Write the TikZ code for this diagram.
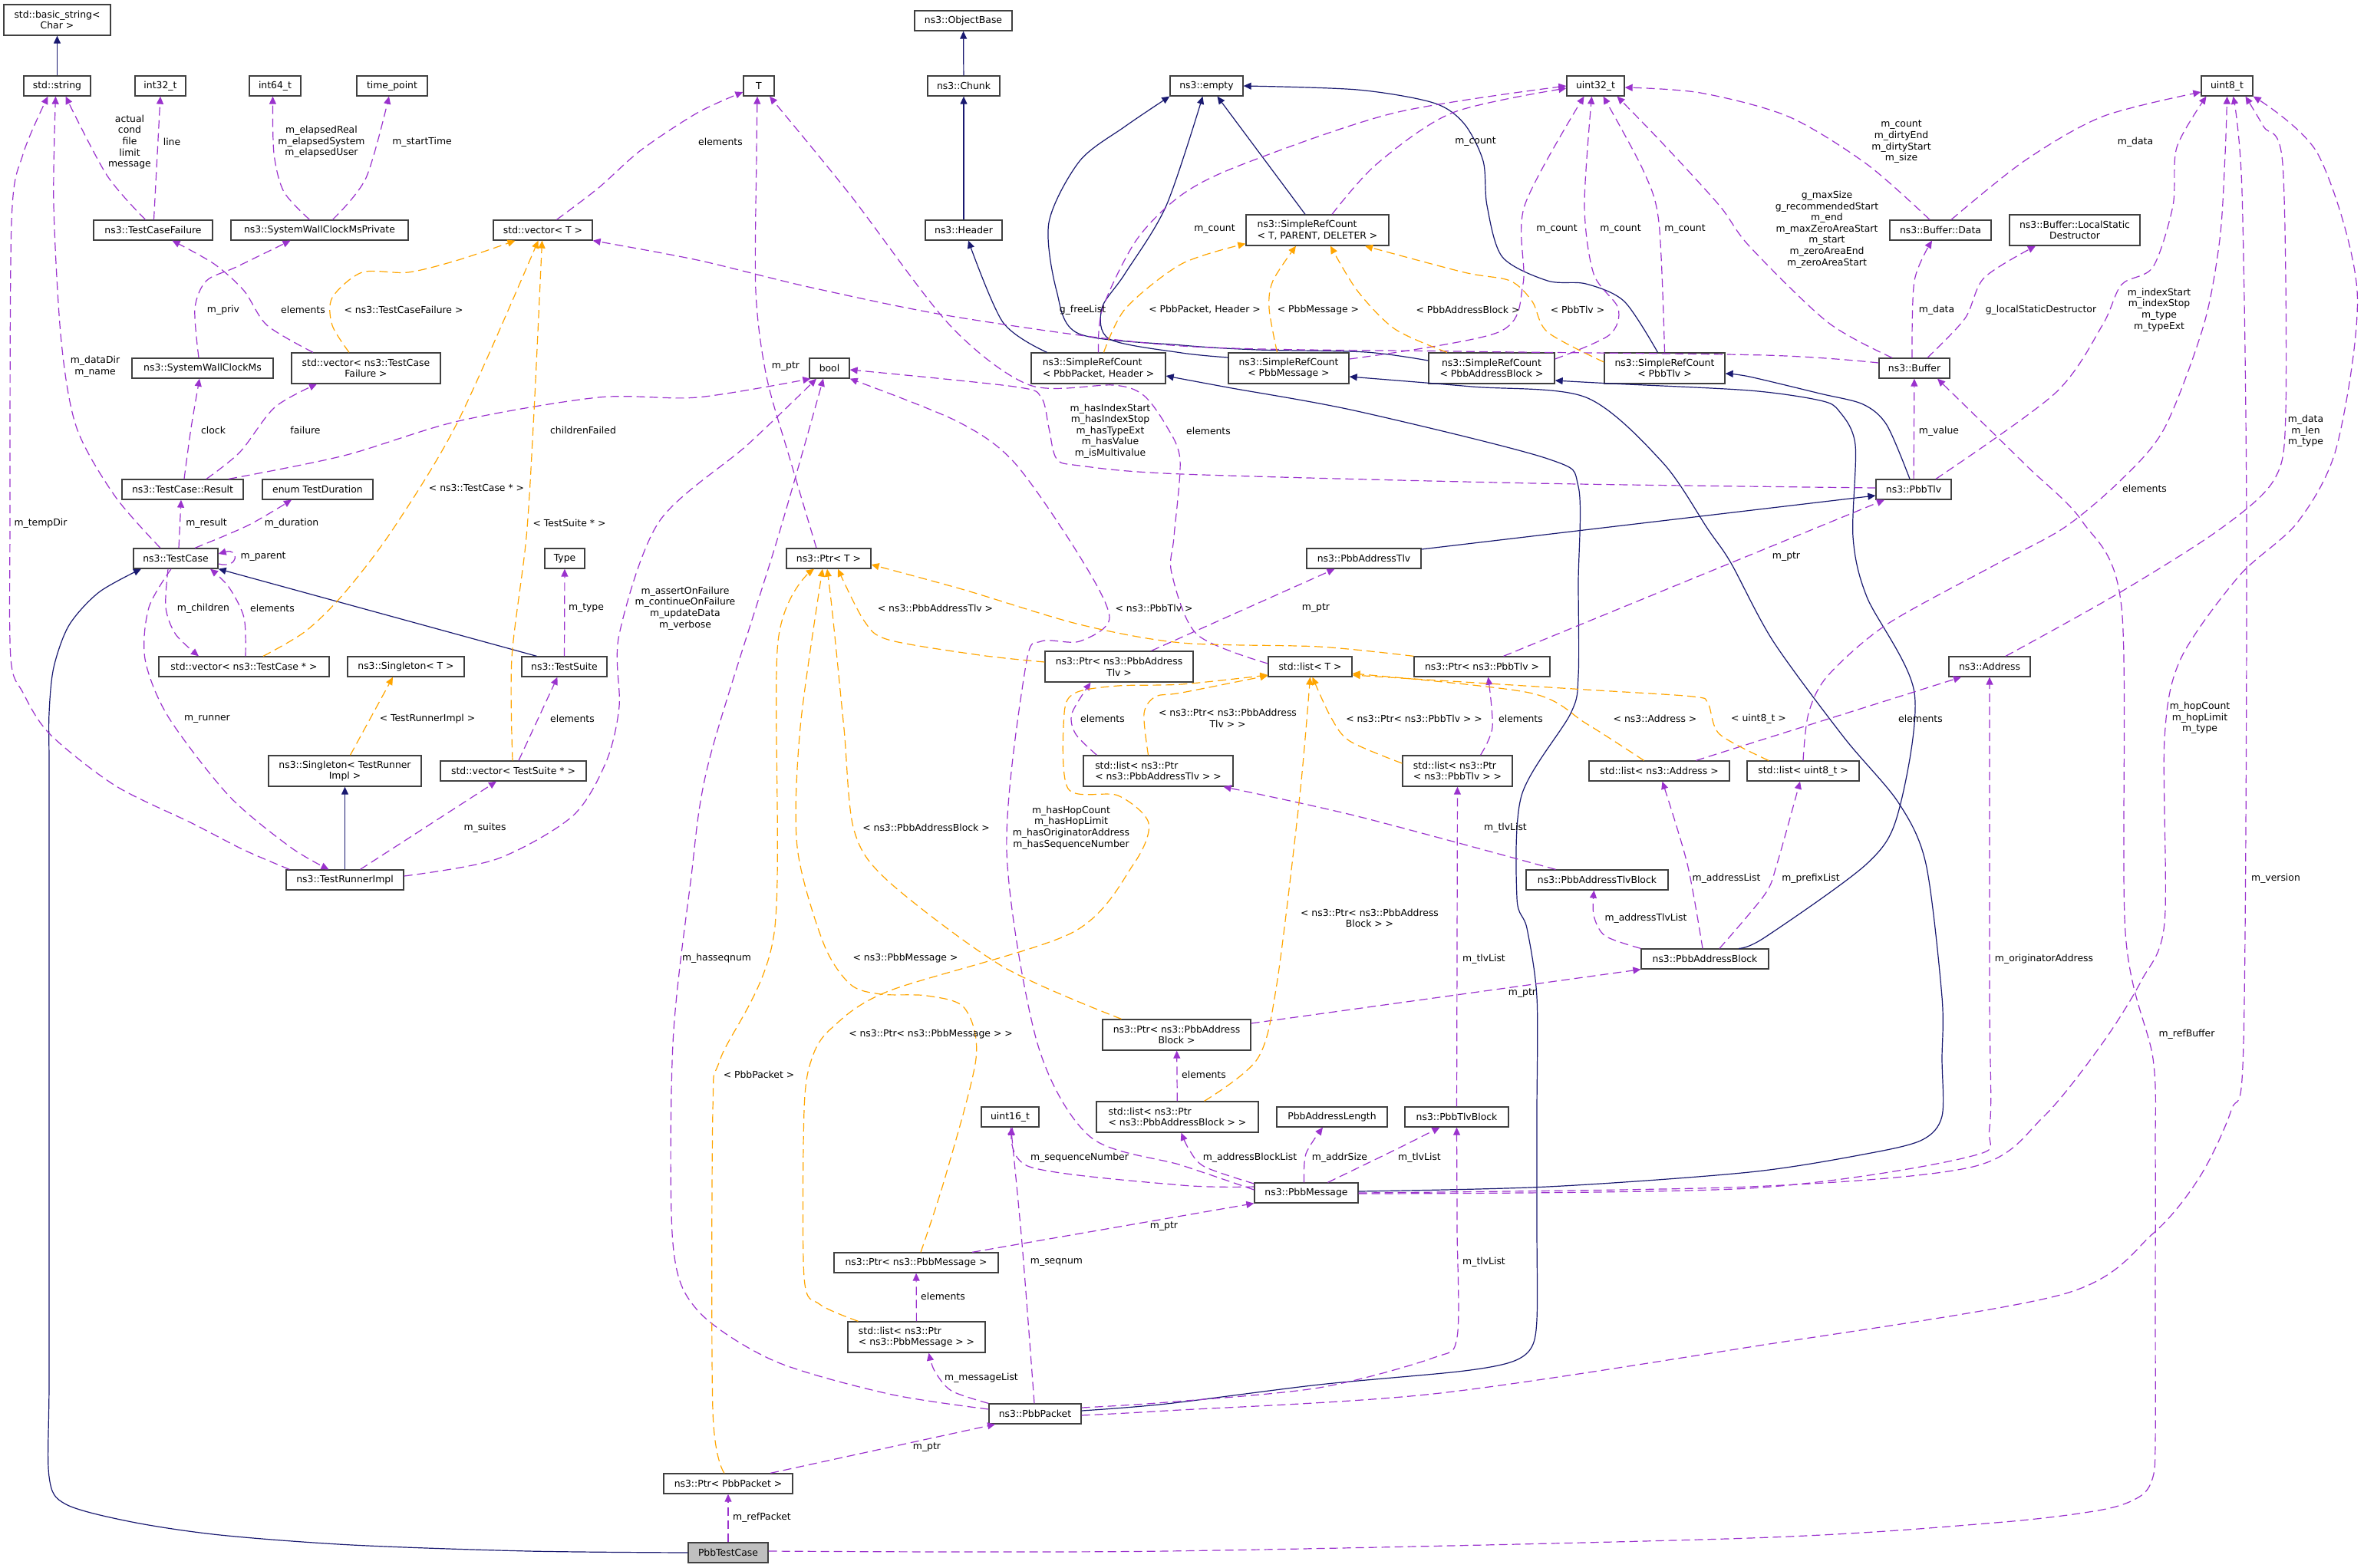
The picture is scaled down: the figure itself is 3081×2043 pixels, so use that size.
\documentclass[tikz,border=0pt]{standalone}
\usepackage{fontspec}
\newfontfamily\dgfont{DejaVu Sans}
\usetikzlibrary{arrows.meta}
\definecolor{dgblue}{HTML}{191970}
\definecolor{dgpurple}{HTML}{9A32CD}
\definecolor{dgorange}{HTML}{FFA500}
\definecolor{dgedge}{HTML}{404040}
\newcommand\dgsize{\dgfont\fontsize{12.4}{14.6}\selectfont}
\tikzset{
  cls/.style={draw=dgedge, line width=1.3pt, fill=white, inner sep=0pt, minimum height=26pt, font=\dgsize},
  cls2/.style={cls, minimum height=40pt, align=center},
  cls2l/.style={cls, minimum height=40pt, align=left},
  arr/.style={-{Triangle[length=10pt,width=9pt]}},
  inh/.style={arr, draw=dgblue, line width=1.2pt},
  usg/.style={arr, draw=dgpurple, line width=1.2pt, dash pattern=on 11pt off 6pt},
  tpl/.style={arr, draw=dgorange, line width=1.2pt, dash pattern=on 11pt off 6pt},
  lbl/.style={font=\dgsize, align=center, inner sep=0pt},
}
\begin{document}
\begin{tikzpicture}[x=1pt,y=-1pt]
			%%%%% START %%%%%
			\useasboundingbox (0,0) rectangle (3081,2043);
			
			%%%%% classes %%%%%
			\node[cls2, minimum width=139pt] (bstr) at (74.5,26) {std::basic\_string<\\Char >};
			\node[cls, minimum width=87pt] (stdstr) at (74.5,112) {std::string};
			\node[cls, minimum width=66pt] (int32) at (209,112) {int32\_t};
			\node[cls, minimum width=67pt] (int64) at (358.5,112) {int64\_t};
			\node[cls, minimum width=92pt] (timept) at (511,112) {time\_point};
			\node[cls, minimum width=40pt] (tT) at (989,112) {T};
			\node[cls, minimum width=127pt] (objbase) at (1255.5,27) {ns3::ObjectBase};
			\node[cls, minimum width=94pt] (chunk) at (1256,112) {ns3::Chunk};
			\node[cls, minimum width=95pt] (empty) at (1572.5,112) {ns3::empty};
			\node[cls, minimum width=75pt] (u32) at (2079.5,112) {uint32\_t};
			\node[cls, minimum width=67pt] (u8) at (2902.5,112) {uint8\_t};
			
			\node[cls, minimum width=155pt] (tcfail) at (199.5,300) {ns3::TestCaseFailure};
			\node[cls, minimum width=231pt] (swcmp) at (416.5,300) {ns3::SystemWallClockMsPrivate};
			\node[cls, minimum width=129pt] (vecT) at (707.5,300) {std::vector< T >};
			\node[cls, minimum width=100pt] (header) at (1256,300) {ns3::Header};
			\node[cls2l, minimum width=186pt] (srcT) at (1717,300) {ns3::SimpleRefCount\\< T, PARENT, DELETER >};
			\node[cls, minimum width=132pt] (bufdata) at (2529,300) {ns3::Buffer::Data};
			\node[cls2, minimum width=170pt] (buflsd) at (2704,300) {ns3::Buffer::LocalStatic\\Destructor};
			
			\node[cls, minimum width=184pt] (swcm) at (264,480) {ns3::SystemWallClockMs};
			\node[cls2, minimum width=194pt] (vectcf) at (477,480) {std::vector< ns3::TestCase\\Failure >};
			\node[cls, minimum width=52pt] (bool) at (1081,480) {bool};
			\node[cls2l, minimum width=175pt] (srcph) at (1431.5,480) {ns3::SimpleRefCount\\< PbbPacket, Header >};
			\node[cls2, minimum width=157pt] (srcmsg) at (1679.5,480) {ns3::SimpleRefCount\\< PbbMessage >};
			\node[cls2, minimum width=164pt] (srcab) at (1944,480) {ns3::SimpleRefCount\\< PbbAddressBlock >};
			\node[cls2, minimum width=157pt] (srctlv) at (2169.5,480) {ns3::SimpleRefCount\\< PbbTlv >};
			\node[cls, minimum width=92pt] (buffer) at (2495,480) {ns3::Buffer};
			
			\node[cls, minimum width=158pt] (result) at (238,638) {ns3::TestCase::Result};
			\node[cls, minimum width=144pt] (tdur) at (414,638) {enum TestDuration};
			\node[cls, minimum width=98pt] (pbbtlv) at (2494,638) {ns3::PbbTlv};
			
			\node[cls, minimum width=110pt] (testcase) at (229,728) {ns3::TestCase};
			\node[cls, minimum width=52pt] (type) at (736,728) {Type};
			\node[cls, minimum width=110pt] (ptrT) at (1080,728) {ns3::Ptr< T >};
			\node[cls, minimum width=149pt] (pbbat) at (1777.5,728) {ns3::PbbAddressTlv};
			
			\node[cls, minimum width=222pt] (vectc) at (318,869) {std::vector< ns3::TestCase * >};
			\node[cls, minimum width=152pt] (singT) at (529,869) {ns3::Singleton< T >};
			\node[cls, minimum width=111pt] (testsuite) at (735.5,869) {ns3::TestSuite};
			\node[cls2, minimum width=193pt] (ptrat) at (1458.5,869) {ns3::Ptr< ns3::PbbAddress\\Tlv >};
			\node[cls, minimum width=109pt] (listT) at (1707.5,869) {std::list< T >};
			\node[cls, minimum width=177pt] (ptrtlv) at (1931.5,869) {ns3::Ptr< ns3::PbbTlv >};
			\node[cls, minimum width=106pt] (address) at (2593,869) {ns3::Address};
			
			\node[cls2, minimum width=199pt] (singtri) at (449.5,1005) {ns3::Singleton< TestRunner\\Impl >};
			\node[cls, minimum width=190pt] (vects) at (669,1005) {std::vector< TestSuite * >};
			\node[cls2l, minimum width=195pt] (listpat) at (1509.5,1005) {std::list< ns3::Ptr\\< ns3::PbbAddressTlv > >};
			\node[cls2l, minimum width=143pt] (listpt) at (1899.5,1005) {std::list< ns3::Ptr\\< ns3::PbbTlv > >};
			\node[cls, minimum width=183pt] (listaddr) at (2162.5,1005) {std::list< ns3::Address >};
			\node[cls, minimum width=146pt] (listu8) at (2350,1005) {std::list< uint8\_t >};
			
			\node[cls, minimum width=153pt] (tri) at (449.5,1147) {ns3::TestRunnerImpl};
			\node[cls, minimum width=185pt] (pbbatb) at (2081.5,1147) {ns3::PbbAddressTlvBlock};
			\node[cls, minimum width=166pt] (pbbab) at (2222,1250) {ns3::PbbAddressBlock};
			\node[cls2, minimum width=193pt] (ptrab) at (1533.5,1349) {ns3::Ptr< ns3::PbbAddress\\Block >};
			
			\node[cls, minimum width=75pt] (u16) at (1316.5,1456) {uint16\_t};
			\node[cls2l, minimum width=211pt] (listpab) at (1534.5,1456) {std::list< ns3::Ptr\\< ns3::PbbAddressBlock > >};
			\node[cls, minimum width=144pt] (addrlen) at (1736,1456) {PbbAddressLength};
			\node[cls, minimum width=135pt] (tlvblk) at (1898.5,1456) {ns3::PbbTlvBlock};
			\node[cls, minimum width=135pt] (pbbmsg) at (1702.5,1555) {ns3::PbbMessage};
			\node[cls, minimum width=214pt] (ptrmsg) at (1194,1646) {ns3::Ptr< ns3::PbbMessage >};
			\node[cls2l, minimum width=179pt] (listpm) at (1194.5,1743) {std::list< ns3::Ptr\\< ns3::PbbMessage > >};
			\node[cls, minimum width=120pt] (pbbpkt) at (1349,1843) {ns3::PbbPacket};
			\node[cls, minimum width=168pt] (ptrpkt) at (949,1934) {ns3::Ptr< PbbPacket >};
			\node[cls, minimum width=104pt, fill=black!25] (pbbtc) at (949,2024) {PbbTestCase};
			
			%%%%% inheritance %%%%%
			\draw[inh] (stdstr) -- (bstr);
			\draw[inh] (chunk) -- (objbase);
			\draw[inh] (header) -- (chunk);
			\draw[inh] plot[smooth] coordinates {([xshift=-67pt]srcph.north) (1307,420) ([xshift=6pt]header.south)};
			\draw[inh] ([xshift=-16pt]srcT.north) -- ([xshift=14pt]empty.south);
			\draw[inh] plot[smooth] coordinates {([yshift=10pt]srcab.west) (1780,459) (1640,456) (1540,450) (1406,435) (1377,379) (1367,290) (1407,210) (1466,165) (empty.south west)};
			\draw[inh] plot[smooth] coordinates {([yshift=14pt]srcmsg.west) (1540,460) (1446,442) (1436,402) (1466,357) (1520,268) ([xshift=-5pt]empty.south)};
			\draw[inh] plot[smooth] coordinates {([xshift=-9pt]srctlv.north) (2117,393) (2067,370) (2017,366) (1958,335) (1938,268) (1933,210) (1908,161) (1868,134) (1769,117) (empty.east)};
			\draw[inh] plot[smooth] coordinates {([xshift=-5pt]pbbtlv.north) (2459,554) (2428,527) (2372,513) (2280,491) ([yshift=-7pt]srctlv.east)};
			\draw[inh] ([yshift=12pt]pbbat.east) -- ([yshift=-8pt]pbbtlv.west);
			\draw[inh] plot[smooth] coordinates {([yshift=2pt]pbbmsg.east) (2017,1547) (2280,1528) (2433,1504) (2505,1486) (2531,1455) (2531,1380) (2531,1300) (2510,1126) (2474,1046) (2403,961) (2311,836) (2256,734) (2226,690) (2167,603) (2067,518) (1918,504) ([yshift=-11pt]srcmsg.east)};
			\draw[inh] plot[smooth] coordinates {([xshift=44pt]pbbab.north) (2300,1222) (2433,1126) (2474,1059) (2495,903) (2433,778) (2415,700) (2418,580) (2397,536) (2372,522) (2280,509) (2100,500) ([yshift=-16pt]srcab.east)};
			\draw[inh] plot[smooth] coordinates {([yshift=4pt]pbbpkt.east) (1520,1830) (1719,1805) (1900,1788) (1968,1776) (1995,1758) (2003,1720) (2003,1600) (2003,1450) (2003,1300) (1990,1210) (1977,1171) (1983,1037) (2047,930) (2057,881) (2057,760) (2057,634) (2017,598) (1769,536) (1600,505) ([yshift=-10pt]srcph.east)};
			\draw[inh] ([xshift=-36pt]testsuite.north) -- (testcase.south east);
			\draw[inh] (tri) -- (singtri);
			\draw[inh] plot[smooth] coordinates {(pbbtc.west) (689,2022) (459,2014) (287,2001) (172,1984) (86,1961) (64,1925) (64,1800) (64,1500) (64,1200) (64,1000) (64,930) (70,870) (90,815) (129,772) ([xshift=-45pt]testcase.south)};
			
			%%%%% members %%%%%
			\draw[usg] plot[smooth] coordinates {([xshift=-10pt]tcfail.north) (139,228) ([xshift=11pt]stdstr.south)};
			\draw[usg] ([xshift=1pt]tcfail.north) -- (int32.south);
			\draw[usg] plot[smooth] coordinates {([xshift=-13pt]swcmp.north) (370,250) (357,200) ([xshift=-3pt]int64.south)};
			\draw[usg] plot[smooth] coordinates {([xshift=17pt]swcmp.north) (477,232) ([xshift=-4pt]timept.south)};
			\draw[usg] plot[smooth] coordinates {([xshift=-5pt]swcm.north) (254,402) (269,366) (308,348) ([xshift=-38pt]swcmp.south)};
			\draw[usg] plot[smooth] coordinates {([xshift=-69pt]vectcf.north) (348,424) (318,379) (279,344) ([xshift=25pt]tcfail.south)};
			\draw[usg] plot[smooth] coordinates {([xshift=18pt]vecT.north) (780,245) (835,196) (909,147) ([yshift=-8pt]tT.west)};
			\draw[usg] plot[smooth] coordinates {([xshift=2pt]result.north) (249,558) ([xshift=-4pt]swcm.south)};
			\draw[usg] plot[smooth] coordinates {([xshift=31pt]result.north) (313,589) (358,531) ([xshift=-64pt]vectcf.south)};
			\draw[usg] plot[smooth] coordinates {([xshift=60pt]result.north) (448,594) (597,549) (780,518) (909,518) ([xshift=2pt]bool.south west)};
			\draw[usg] plot[smooth] coordinates {([xshift=-20pt]testcase.north) (150,647) (100,558) (80,446) (70,268) ([xshift=-2pt]stdstr.south)};
			\draw[usg] ([xshift=4pt]testcase.north) -- ([xshift=-2pt]result.south);
			\draw[usg] plot[smooth] coordinates {([xshift=25pt]testcase.north) (323,685) ([xshift=-34pt]tdur.south)};
			\draw[usg] ([yshift=-7pt]testcase.east) .. controls (312,742) and (312,714) .. ([yshift=6pt]testcase.east);
			\draw[usg] plot[smooth] coordinates {([xshift=-10pt]testcase.south) (216,792) (229,827) ([xshift=-59pt]vectc.north)};
			\draw[usg] plot[smooth] coordinates {([xshift=2pt]vectc.north) (318,805) (298,765) ([xshift=45pt]testcase.south)};
			\draw[usg] plot[smooth] coordinates {([xshift=-6pt]testcase.south) (194,792) (189,859) (219,934) (298,1037) (378,1104) ([xshift=-21pt]tri.north)};
			\draw[usg] (testsuite) -- (type);
			\draw[usg] ([xshift=7pt]vects.north) -- ([xshift=-9pt]testsuite.south);
			\draw[usg] ([xshift=20pt]tri.north) -- ([xshift=-22pt]vects.south);
			\draw[usg] plot[smooth] coordinates {([xshift=5pt]tri.north west) (318,1108) (250,1073) (150,1024) (65,957) (30,903) (14,858) (13,680) (15,290) (30,201) ([xshift=-12pt]stdstr.south)};
			\draw[usg] plot[smooth] coordinates {([yshift=5pt]tri.east) (647,1120) (746,1064) (790,993) (807,921) (807,827) (859,680) (974,580) ([xshift=-17pt]bool.south)};
			\draw[usg] plot[smooth] coordinates {([xshift=19pt]srcT.north) (1794,214) (1893,147) ([yshift=-3pt]u32.west)};
			\draw[usg] plot[smooth] coordinates {(srcph.north) (1437,402) (1481,313) (1540,254) (1620,214) (1818,147) (u32.west)};
			\draw[usg] plot[smooth] coordinates {([yshift=12pt]srcmsg.east) (1953,433) (1985,370) (1987,268) ([xshift=-15pt]u32.south)};
			\draw[usg] plot[smooth] coordinates {([yshift=12pt]srcab.east) (2097,437) (2109,402) (2077,357) (2065,268) ([xshift=-5pt]u32.south)};
			\draw[usg] plot[smooth] coordinates {(srctlv.north) (2162,290) (2142,223) ([xshift=10pt]u32.south)};
			\draw[usg] plot[smooth] coordinates {([xshift=-29pt]buffer.north) (2382,420) (2280,321) (2241,268) (2167,187) ([xshift=28pt]u32.south)};
			\draw[usg] plot[smooth] coordinates {([xshift=-14pt]bufdata.north) (2433,214) (2331,152) (2216,121) ([yshift=-2pt]u32.east)};
			\draw[usg] plot[smooth] coordinates {([xshift=14pt]bufdata.north) (2638,210) (2740,152) ([yshift=-8pt]u8.west)};
			\draw[usg] plot[smooth] coordinates {([xshift=-3pt]buffer.north) (2495,366) ([xshift=-11pt]bufdata.south)};
			\draw[usg] plot[smooth] coordinates {([xshift=17pt]buffer.north) (2561,415) (2586,362) ([xshift=-51pt]buflsd.south)};
			\draw[usg] plot[smooth] coordinates {([yshift=7pt]buffer.west) (2300,463) (1900,458) (1540,451) (1257,415) (1058,375) (909,339) (vecT.south east)};
			\draw[usg] (pbbtlv) -- (buffer);
			\draw[usg] plot[smooth] coordinates {([xshift=29pt]pbbtlv.north) (2678,513) (2740,424) (2765,371) (2806,348) (2832,268) (2837,192) ([xshift=-27pt]u8.south)};
			\draw[usg] plot[smooth] coordinates {([yshift=2pt]pbbtlv.west) (2000,630) (1540,618) (1407,607) (1377,598) (1367,558) (1357,518) (1322,504) ([yshift=-2pt]bool.east)};
			\draw[usg] ([xshift=28pt]ptrtlv.north) -- ([xshift=-38pt]pbbtlv.south);
			\draw[usg] ([xshift=42pt]ptrat.north) -- ([xshift=-38pt]pbbat.south);
			\draw[usg] plot[smooth] coordinates {([xshift=-16pt]ptrT.north) (1030,600) (999,491) (985,380) (986,200) ([xshift=-2pt]tT.south)};
			\draw[usg] plot[smooth] coordinates {([yshift=4pt]listT.west) (1560,827) (1527,747) (1530,700) (1538,600) (1520,555) (1490,515) (1451,502) (1342,502) (1238,424) (1108,254) ([xshift=14pt]tT.south)};
			\draw[usg] plot[smooth] coordinates {([xshift=-80pt]listpat.north) (1402,957) (1397,930) ([xshift=-37pt]ptrat.south)};
			\draw[usg] plot[smooth] coordinates {([xshift=30pt]listpt.north) (1945,948) ([xshift=8pt]ptrtlv.south)};
			\draw[usg] ([xshift=48pt]listaddr.north) -- ([xshift=-37pt]address.south);
			\draw[usg] plot[smooth] coordinates {(listu8.north) (2357,930) (2382,881) (2459,814) (2597,738) (2690,688) (2765,625) (2821,558) (2872,424) (2893,312) (2900,201) (u8.south)};
			\draw[usg] plot[smooth] coordinates {([xshift=21pt]address.north) (2760,774) (2893,690) (2964,625) (2979,536) (2975,214) (2950,165) ([xshift=24pt]u8.south)};
			\draw[usg] plot[smooth] coordinates {(pbbmsg.east) (2280,1547) (2571,1521) (2663,1456) (2740,1360) (2791,1278) (2821,1203) (2821,963) (2842,859) (2918,751) (2995,680) (3046,580) (3072,379) (3021,201) (u8.south east)};
			\draw[usg] plot[smooth] coordinates {([yshift=-1pt]pbbmsg.east) (2280,1549) (2566,1508) (2593,1469) (2593,1300) (address.south)};
			\draw[usg] plot[smooth] coordinates {([yshift=8pt]pbbmsg.west) (1540,1545) (1342,1521) ([xshift=3pt]u16.south)};
			\draw[usg] plot[smooth] coordinates {([yshift=12pt]pbbmsg.west) (1570,1521) (1550,1499) ([xshift=5pt]listpab.south)};
			\draw[usg] plot[smooth] coordinates {([xshift=-3pt]pbbmsg.north) (1702,1504) ([xshift=-12pt]addrlen.south)};
			\draw[usg] plot[smooth] coordinates {([xshift=28pt]pbbmsg.north) (1818,1499) ([xshift=-22pt]tlvblk.south)};
			\draw[usg] plot[smooth] coordinates {([yshift=4pt]pbbmsg.west) (1540,1519) (1421,1482) (1352,1360) (1312,1109) (1337,867) (1357,836) (1407,836) (1446,805) (1407,725) (1322,603) (1247,549) (bool.south east)};
			\draw[usg] ([xshift=73pt]ptrmsg.north) -- (pbbmsg.south west);
			\draw[usg] (listpm) -- (ptrmsg);
			\draw[usg] (listpab) -- (ptrab);
			\draw[usg] ([yshift=15pt]ptrab.east) -- (pbbab.south west);
			\draw[usg] plot[smooth] coordinates {(pbbab.north west) (2092,1220) (2077,1193) ([xshift=-4pt]pbbatb.south)};
			\draw[usg] plot[smooth] coordinates {([xshift=-3pt]pbbab.north) (2199,1126) ([xshift=4pt]listaddr.south)};
			\draw[usg] plot[smooth] coordinates {([xshift=19pt]pbbab.north) (2300,1166) (2316,1126) ([xshift=-4pt]listu8.south)};
			\draw[usg] plot[smooth] coordinates {([xshift=-54pt]pbbatb.north) (1769,1064) ([xshift=85pt]listpat.south)};
			\draw[usg] (tlvblk) -- (listpt);
			\draw[usg] plot[smooth] coordinates {(pbbpkt.north west) (1240,1813) (1218,1787) ([xshift=16pt]listpm.south)};
			\draw[usg] plot[smooth] coordinates {([xshift=-1pt]pbbpkt.north) (1332,1621) ([xshift=1pt]u16.south)};
			\draw[usg] plot[smooth] coordinates {([yshift=8pt]pbbpkt.east) (1520,1828) (1719,1809) (1868,1770) (1899,1743) (1899,1600) (tlvblk.south)};
			\draw[usg] plot[smooth] coordinates {([yshift=-2pt]pbbpkt.east) (1520,1839) (1868,1817) (2280,1756) (2689,1687) (2806,1608) (2867,1534) (2908,1447) (2924,1360) (2928,700) (2922,250) ([xshift=8pt]u8.south)};
			\draw[usg] plot[smooth] coordinates {([yshift=6pt]pbbpkt.west) (1158,1817) (1009,1774) (909,1708) (877,1621) (877,1360) (900,1150) (924,992) (1014,700) ([xshift=-8pt]bool.south)};
			\draw[usg] ([xshift=55pt]ptrpkt.north) -- ([xshift=-52pt]pbbpkt.south);
			\draw[usg] (pbbtc) -- (ptrpkt);
			\draw[usg] plot[smooth] coordinates {([yshift=2pt]pbbtc.east) (1520,2022) (2280,2005) (2600,1985) (2740,1968) (2790,1950) (2806,1925) (2809,1880) (2809,1700) (2809,1500) (2806,1380) (2770,1216) (2765,792) (2714,680) (2640,606) ([xshift=30pt]buffer.south)};
			
			%%%%% template instances %%%%%
			\draw[tpl] plot[smooth] coordinates {([xshift=-22pt]vectcf.north) (433,424) (433,388) (472,355) (532,355) (597,339) ([xshift=-36pt]vecT.south)};
			\draw[tpl] plot[smooth] coordinates {([xshift=25pt]vectc.north) (398,823) (448,774) (512,690) (597,549) ([xshift=-6pt]vecT.south)};
			\draw[tpl] plot[smooth] coordinates {([xshift=-1pt]vects.north) (667,858) (686,700) (696,536) ([xshift=-1pt]vecT.south)};
			\draw[tpl] ([xshift=7pt]singtri.north) -- ([xshift=-17pt]singT.south);
			\draw[tpl] plot[smooth] coordinates {([xshift=7pt]srcph.north) (1467,402) (1540,344) ([yshift=3pt]srcT.south west)};
			\draw[tpl] plot[smooth] coordinates {([xshift=-15pt]srcmsg.north) (1654,402) (1659,366) ([xshift=-28pt]srcT.south)};
			\draw[tpl] plot[smooth] coordinates {([xshift=-58pt]srcab.north) (1818,429) (1769,379) ([xshift=17pt]srcT.south)};
			\draw[tpl] plot[smooth] coordinates {([yshift=8pt]srctlv.west) (2017,433) (1997,393) (1968,366) (1908,355) ([xshift=62pt]srcT.south)};
			\draw[tpl] plot[smooth] coordinates {([yshift=6pt]ptrat.west) (1277,854) (1158,834) (1126,809) ([xshift=12pt]ptrT.south)};
			\draw[tpl] plot[smooth] coordinates {(ptrtlv.north west) (1719,843) (1540,838) (1407,814) (1257,769) ([yshift=-8pt]ptrT.east)};
			\draw[tpl] plot[smooth] coordinates {([xshift=-13pt]listpat.north) (1491,930) (1506,908) (1540,903) ([yshift=2pt]listT.south west)};
			\draw[tpl] plot[smooth] coordinates {([yshift=10pt]listpt.west) (1759,966) (1734,934) ([xshift=3pt]listT.south)};
			\draw[tpl] plot[smooth] coordinates {([xshift=-20pt]listaddr.north) (2067,943) (1993,903) ([yshift=-9pt]listT.east)};
			\draw[tpl] plot[smooth] coordinates {([xshift=-45pt]listu8.north) (2241,957) (2226,917) (2206,908) (2067,899) ([yshift=-11pt]listT.east)};
			\draw[tpl] plot[smooth] coordinates {([xshift=-76pt]listpm.north) (1068,1700) (1048,1665) (1048,1447) (1058,1380) (1083,1341) (1158,1292) (1397,1216) (1477,1127) (1497,1073) (1457,1037) (1392,1028) (1387,930) (1402,903) (1457,894) (1540,892) ([yshift=-11pt]listT.west)};
			\draw[tpl] plot[smooth] coordinates {([xshift=6pt]ptrmsg.north) (1232,1534) (1272,1380) (1257,1314) (1208,1298) (1148,1296) (1108,1283) (1073,1229) (1039,1104) (1043,948) ([xshift=-8pt]ptrT.south)};
			\draw[tpl] plot[smooth] coordinates {([xshift=-72pt]ptrab.north) (1307,1260) (1158,1149) (1113,1082) (1100,950) (1085,800) ([xshift=-2pt]ptrT.south)};
			\draw[tpl] plot[smooth] coordinates {([xshift=-5pt]ptrpkt.north) (929,1839) (929,1447) (939,1380) (1009,1216) (1014,836) ([xshift=-19pt]ptrT.south)};
			\draw[tpl] plot[smooth] coordinates {([xshift=35pt]listpab.north) (1639,1380) (1664,1283) (1694,1037) (listT.south)};
			
			%%%%% labels %%%%%
			\node[lbl] (lActual) at (169,185) {actual\\cond\\file\\limit\\message};
			\node[lbl] (lLine) at (224,185) {line};
			\node[lbl] (lElapsed) at (419,185) {m\_elapsedReal\\m\_elapsedSystem\\m\_elapsedUser};
			\node[lbl] (lStart) at (550,185) {m\_startTime};
			\node[lbl] (lVecElem) at (939,185) {elements};
			\node[lbl] (lCountT) at (1923,185) {m\_count};
			\node[lbl] (lDataCount) at (2478,185) {m\_count\\m\_dirtyEnd\\m\_dirtyStart\\m\_size};
			\node[lbl] (lDataData) at (2783,185) {m\_data};
			\node[lbl] (lMaxSize) at (2381,299) {g\_maxSize\\g\_recommendedStart\\m\_end\\m\_maxZeroAreaStart\\m\_start\\m\_zeroAreaEnd\\m\_zeroAreaStart};
			\node[lbl] (lCountPH) at (1583,299) {m\_count};
			\node[lbl] (lCountMsg) at (2029,299) {m\_count};
			\node[lbl] (lCountAB) at (2112,299) {m\_count};
			\node[lbl] (lCountTlv) at (2196,299) {m\_count};
			\node[lbl] (lPriv) at (291,404) {m\_priv};
			\node[lbl] (lFailElem) at (395,404) {elements};
			\node[lbl] (lTplFail) at (526,404) {< ns3::TestCaseFailure >};
			\node[lbl] (lFreeList) at (1411,404) {g\_freeList};
			\node[lbl] (lTplPH) at (1570,404) {< PbbPacket, Header >};
			\node[lbl] (lTplMsg) at (1718,404) {< PbbMessage >};
			\node[lbl] (lTplAB) at (1913,404) {< PbbAddressBlock >};
			\node[lbl] (lTplTlv) at (2056,404) {< PbbTlv >};
			\node[lbl] (lBufData) at (2524,404) {m\_data};
			\node[lbl] (lLocal) at (2660,404) {g\_localStaticDestructor};
			\node[lbl] (lIndex) at (2814,404) {m\_indexStart\\m\_indexStop\\m\_type\\m\_typeExt};
			\node[lbl] (lDataDir) at (124,478) {m\_dataDir\\m\_name};
			\node[lbl] (lPtrT) at (1024,478) {m\_ptr};
			\node[lbl] (lClock) at (278,561) {clock};
			\node[lbl] (lFailure) at (398,561) {failure};
			\node[lbl] (lChildFail) at (760,561) {childrenFailed};
			\node[lbl] (lHasIndex) at (1447,562) {m\_hasIndexStart\\m\_hasIndexStop\\m\_hasTypeExt\\m\_hasValue\\m\_isMultivalue};
			\node[lbl] (lListElem) at (1575,562) {elements};
			\node[lbl] (lValue) at (2527,562) {m\_value};
			\node[lbl] (lAddrData) at (3005,562) {m\_data\\m\_len\\m\_type};
			\node[lbl] (lTplTC) at (621,636) {< ns3::TestCase * >};
			\node[lbl] (lU8Elem) at (2795,637) {elements};
			\node[lbl] (lTempDir) at (53,682) {m\_tempDir};
			\node[lbl] (lResult) at (269,682) {m\_result};
			\node[lbl] (lDuration) at (380,682) {m\_duration};
			\node[lbl] (lTplTS) at (742,682) {< TestSuite * >};
			\node[lbl] (lParent) at (343,726) {m\_parent};
			\node[lbl] (lPtrTlv) at (2328,726) {m\_ptr};
			\node[lbl] (lChildren) at (265,793) {m\_children};
			\node[lbl] (lTCElem) at (355,793) {elements};
			\node[lbl] (lType) at (764,793) {m\_type};
			\node[lbl] (lAssert) at (893,793) {m\_assertOnFailure\\m\_continueOnFailure\\m\_updateData\\m\_verbose};
			\node[lbl] (lTplPAT) at (1219,793) {< ns3::PbbAddressTlv >};
			\node[lbl] (lTplPT) at (1504,793) {< ns3::PbbTlv >};
			\node[lbl] (lPtrAT) at (1715,793) {m\_ptr};
			\node[lbl] (lRunner) at (270,937) {m\_runner};
			\node[lbl] (lTplTRI) at (557,937) {< TestRunnerImpl >};
			\node[lbl] (lTSElem) at (746,937) {elements};
			\node[lbl] (lPATElem) at (1437,937) {elements};
			\node[lbl] (lTplLPAT) at (1600,936) {< ns3::Ptr< ns3::PbbAddress\\Tlv > >};
			\node[lbl] (lTplLPT) at (1843,937) {< ns3::Ptr< ns3::PbbTlv > >};
			\node[lbl] (lPTElem) at (1982,937) {elements};
			\node[lbl] (lTplAddr) at (2157,937) {< ns3::Address >};
			\node[lbl] (lTplU8) at (2292,937) {< uint8\_t >};
			\node[lbl] (lAddrElem) at (2503,937) {elements};
			\node[lbl] (lHop) at (2867,936) {m\_hopCount\\m\_hopLimit\\m\_type};
			\node[lbl] (lSuites) at (632,1079) {m\_suites};
			\node[lbl] (lTplPAB) at (1207,1079) {< ns3::PbbAddressBlock >};
			\node[lbl] (lHasHop) at (1396,1079) {m\_hasHopCount\\m\_hasHopLimit\\m\_hasOriginatorAddress\\m\_hasSequenceNumber};
			\node[lbl] (lATBList) at (1962,1079) {m\_tlvList};
			\node[lbl] (lAddrList) at (2250,1145) {m\_addressList};
			\node[lbl] (lPrefix) at (2360,1145) {m\_prefixList};
			\node[lbl] (lVersion) at (2966,1145) {m\_version};
			\node[lbl] (lTplLPAB) at (1785,1197) {< ns3::Ptr< ns3::PbbAddress\\Block > >};
			\node[lbl] (lAddrTlv) at (2145,1197) {m\_addressTlvList};
			\node[lbl] (lSeqFlag) at (934,1249) {m\_hasseqnum};
			\node[lbl] (lTplPM) at (1180,1249) {< ns3::PbbMessage >};
			\node[lbl] (lTBList) at (1934,1250) {m\_tlvList};
			\node[lbl] (lOrig) at (2664,1250) {m\_originatorAddress};
			\node[lbl] (lPtrAB) at (1984,1295) {m\_ptr};
			\node[lbl] (lTplLPM) at (1213,1348) {< ns3::Ptr< ns3::PbbMessage > >};
			\node[lbl] (lRefBuf) at (2850,1348) {m\_refBuffer};
			\node[lbl] (lTplPP) at (989,1401) {< PbbPacket >};
			\node[lbl] (lPABElem) at (1569,1401) {elements};
			\node[lbl] (lSeqNum) at (1407,1509) {m\_sequenceNumber};
			\node[lbl] (lABList) at (1629,1509) {m\_addressBlockList};
			\node[lbl] (lAddrSize) at (1746,1509) {m\_addrSize};
			\node[lbl] (lMsgTlv) at (1850,1509) {m\_tlvList};
			\node[lbl] (lPtrMsg) at (1517,1599) {m\_ptr};
			\node[lbl] (lSeqnum) at (1377,1645) {m\_seqnum};
			\node[lbl] (lPktTlv) at (1934,1645) {m\_tlvList};
			\node[lbl] (lPMElem) at (1229,1690) {elements};
			\node[lbl] (lMsgList) at (1279,1796) {m\_messageList};
			\node[lbl] (lPtrPkt) at (1208,1887) {m\_ptr};
			\node[lbl] (lRefPkt) at (993,1978) {m\_refPacket};
			%%%%% END %%%%%
\end{tikzpicture}
\end{document}
